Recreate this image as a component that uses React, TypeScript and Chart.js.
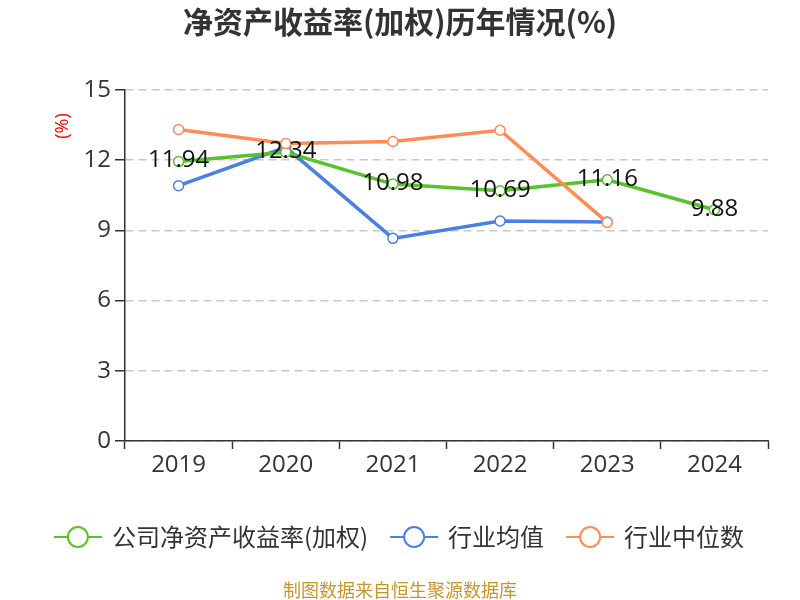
import React, { useEffect, useRef } from 'react';
import { Chart, registerables } from 'chart.js';

Chart.register(...registerables);

const titleText = '净资产收益率(加权)历年情况(%)';
const yAxisTitle = '(%)';
const footerText = '制图数据来自恒生聚源数据库';
const categories = ['2019', '2020', '2021', '2022', '2023', '2024'];
const companyLabel = '公司净资产收益率(加权)';
const avgLabel = '行业均值';
const medianLabel = '行业中位数';
const companyRoe = [11.94, 12.34, 10.98, 10.69, 11.16, 9.88];
const industryAvg: (number | null)[] = [10.91, 12.55, 8.66, 9.4, 9.36, null];
const industryMedian: (number | null)[] = [13.31, 12.71, 12.8, 13.28, 9.34, null];
const yMin = 0;
const yMax = 15;
const yStep = 3;

const GREEN = '#57c22a';
const BLUE = '#4a80e3';
const ORANGE = '#ff8b55';
const FONT = '"Open Sans", "Noto Sans CJK SC", sans-serif';
const CJK = '"Noto Sans CJK SC", "Open Sans", sans-serif';

const overlay = {
  id: 'overlay',
  afterDatasetsDraw(chart: any) {
    const { ctx } = chart;
    const meta = chart.getDatasetMeta(0);
    ctx.save();
    ctx.font = `24px ${FONT}`;
    ctx.fillStyle = '#111';
    ctx.textAlign = 'center';
    ctx.textBaseline = 'middle';
    meta.data.forEach((pt: any, i: number) => {
      ctx.fillText(companyRoe[i].toFixed(2), pt.x, pt.y - 1);
    });
    ctx.restore();
  },
  afterDraw(chart: any) {
    const { ctx, width } = chart;
    ctx.save();
    // title
    ctx.font = `bold 30px ${CJK}`;
    ctx.fillStyle = '#333';
    ctx.textAlign = 'center';
    ctx.textBaseline = 'middle';
    ctx.fillText(titleText, width / 2, 22);
    // y axis title
    ctx.save();
    ctx.translate(63, 126);
    ctx.rotate(-Math.PI / 2);
    ctx.font = `18px ${FONT}`;
    ctx.fillStyle = '#ff0000';
    ctx.fillText(yAxisTitle, 0, 0);
    ctx.restore();
    // legend
    const items = chart.data.datasets.map((d: any) => ({ label: d.label, color: d.borderColor }));
    ctx.font = `24px ${CJK}`;
    const markerW = 48;
    const textGap = 10;
    const itemGap = 22;
    const widths = items.map((it: any) => markerW + textGap + ctx.measureText(it.label).width);
    const total = widths.reduce((a: number, b: number) => a + b, 0) + itemGap * (items.length - 1);
    let x = (width - total) / 2 - 1;
    const ly = 537;
    items.forEach((it: any, i: number) => {
      ctx.strokeStyle = it.color;
      ctx.lineWidth = 2;
      ctx.beginPath();
      ctx.moveTo(x, ly);
      ctx.lineTo(x + markerW, ly);
      ctx.stroke();
      ctx.beginPath();
      ctx.arc(x + markerW / 2, ly, 10, 0, Math.PI * 2);
      ctx.fillStyle = '#fff';
      ctx.fill();
      ctx.stroke();
      ctx.fillStyle = '#333';
      ctx.textAlign = 'left';
      ctx.textBaseline = 'middle';
      ctx.fillText(it.label, x + markerW + textGap, ly);
      x += widths[i] + itemGap;
    });
    // footer
    ctx.font = `18px ${CJK}`;
    ctx.fillStyle = '#c9952b';
    ctx.textAlign = 'center';
    ctx.fillText(footerText, width / 2, 590);
    ctx.restore();
  },
};

export default function App() {
  const ref = useRef<HTMLCanvasElement>(null);
  useEffect(() => {
    document.body.style.margin = '0';
    const canvas = ref.current!;
    const lineDs = (label: string, data: (number | null)[], color: string, order: number) => ({
      label,
      data,
      borderColor: color,
      backgroundColor: color,
      borderWidth: 3.5,
      pointRadius: 5,
      pointBorderWidth: 1.5,
      pointBackgroundColor: '#fff',
      pointBorderColor: color,
      tension: 0,
      order,
    });
    const chart = new Chart(canvas, {
      type: 'line',
      data: {
        labels: categories,
        datasets: [
          lineDs(companyLabel, companyRoe, GREEN, 1),
          lineDs(avgLabel, industryAvg, BLUE, 2),
          lineDs(medianLabel, industryMedian, ORANGE, 0),
        ],
      },
      options: {
        animation: false,
        responsive: true,
        maintainAspectRatio: false,
        layout: { padding: { top: 90, right: 32, bottom: 109, left: 0 } },
        plugins: {
          legend: { display: false },
          title: { display: false },
          tooltip: { enabled: false },
        },
        scales: {
          x: {
            type: 'category',
            offset: true,
            grid: {
              display: true,
              drawOnChartArea: false,
              offset: true,
              tickLength: 8,
              tickColor: '#333',
              tickWidth: 1.5,
            },
            border: { display: true, color: '#333', width: 1.5 },
            ticks: { color: '#333', font: { size: 24, family: FONT }, padding: 2 },
            afterFit: (s: any) => {
              s.height = 50;
            },
          },
          y: {
            min: yMin,
            max: yMax,
            grid: {
              color: '#c8c8c8',
              lineWidth: 1.5,
              tickLength: 10,
              tickColor: '#333',
              tickWidth: 1.5,
            },
            border: { display: true, color: '#333', width: 1.5, dash: [8, 5] },
            ticks: { stepSize: yStep, color: '#333', font: { size: 24, family: FONT }, padding: 4 },
            afterFit: (s: any) => {
              s.width = 125;
            },
          },
        },
      },
      plugins: [overlay],
    } as any);
    return () => chart.destroy();
  }, []);
  return (
    <div style={{ width: 800, height: 600, position: 'relative' }}>
      <canvas ref={ref} />
    </div>
  );
}
